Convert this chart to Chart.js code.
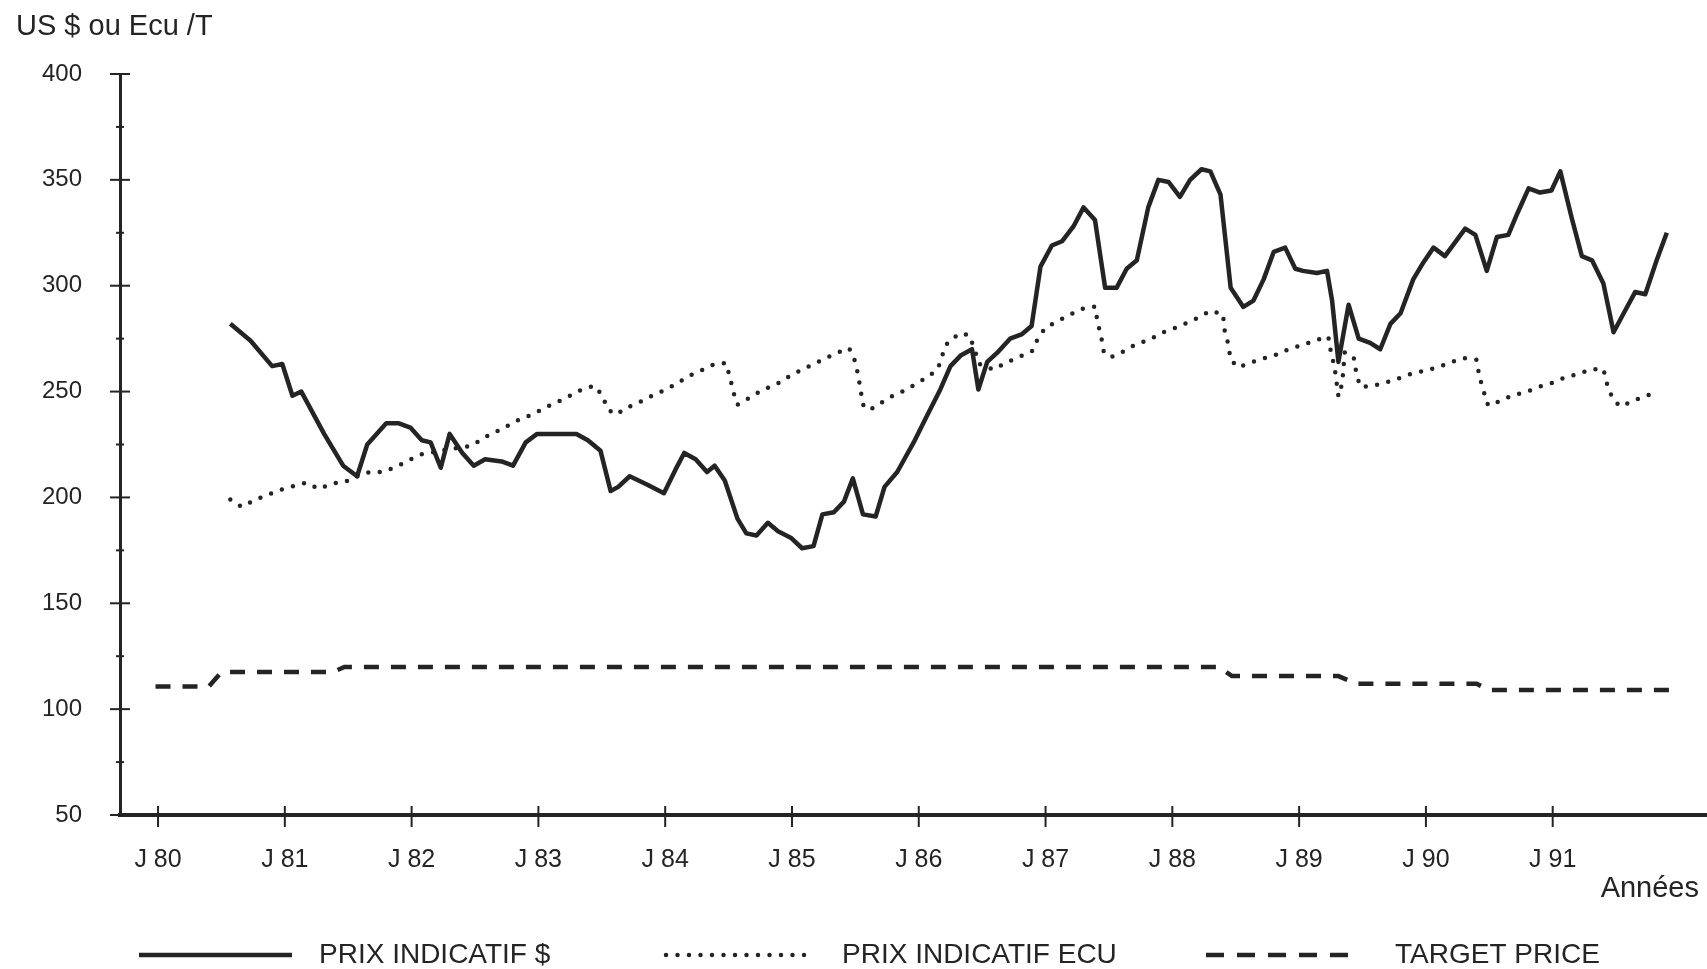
<!DOCTYPE html>
<html>
<head>
<meta charset="utf-8">
<title>Prix indicatif</title>
<script src="https://cdn.jsdelivr.net/npm/chart.js@4.4.1/dist/chart.umd.min.js"></script>
<style>
    html, body { margin: 0; padding: 0; background: #fff; }
    #wrap { width: 1707px; height: 969px; position: relative; }
</style>
</head>
<body>
<div id="wrap"><canvas id="chart"></canvas></div>
<script>
// Prix indicatif en dollars (US $ / T)
const usdYears = [
    1980.57, 1980.73, 1980.90, 1980.98, 1981.06, 1981.13, 1981.31, 1981.46, 1981.57, 1981.65,
    1981.80, 1981.90, 1981.99, 1982.08, 1982.15, 1982.23, 1982.30, 1982.40, 1982.49, 1982.58,
    1982.71, 1982.80, 1982.90, 1982.99, 1983.17, 1983.30, 1983.39, 1983.49, 1983.57, 1983.63,
    1983.72, 1983.86, 1983.99, 1984.08, 1984.15, 1984.24, 1984.33, 1984.39, 1984.47, 1984.57,
    1984.64, 1984.72, 1984.81, 1984.89, 1984.99, 1985.08, 1985.17, 1985.24, 1985.33, 1985.41,
    1985.48, 1985.56, 1985.66, 1985.73, 1985.83, 1985.96, 1986.06, 1986.17, 1986.25, 1986.33,
    1986.42, 1986.47, 1986.54, 1986.63, 1986.72, 1986.81, 1986.89, 1986.96, 1987.05, 1987.13,
    1987.22, 1987.30, 1987.39, 1987.47, 1987.56, 1987.64, 1987.72, 1987.81, 1987.89, 1987.97,
    1988.06, 1988.14, 1988.23, 1988.30, 1988.38, 1988.46, 1988.56, 1988.64, 1988.72, 1988.80,
    1988.89, 1988.97, 1989.03, 1989.14, 1989.22, 1989.26, 1989.31, 1989.39, 1989.47, 1989.56,
    1989.64, 1989.72, 1989.80, 1989.90, 1989.98, 1990.06, 1990.15, 1990.31, 1990.39, 1990.48,
    1990.56, 1990.65, 1990.72, 1990.81, 1990.90, 1990.99, 1991.06, 1991.15, 1991.23, 1991.31,
    1991.40, 1991.48, 1991.56, 1991.65, 1991.73, 1991.82, 1991.90
];
const usdPrice = [
    282, 274, 262, 263, 248, 250, 230, 215, 210, 225,
    235, 235, 233, 227, 226, 214, 230, 221, 215, 218,
    217, 215, 226, 230, 230, 230, 227, 222, 203, 205,
    210, 206, 202, 213, 221, 218, 212, 215, 208, 190,
    183, 182, 188, 184, 181, 176, 177, 192, 193, 198,
    209, 192, 191, 205, 212, 226, 238, 251, 262, 267,
    270, 251, 264, 269, 275, 277, 281, 309, 319, 321,
    328, 337, 331, 299, 299, 308, 312, 337, 350, 349,
    342, 350, 355, 354, 343, 299, 290, 293, 303, 316,
    318, 308, 307, 306, 307, 293, 264, 291, 275, 273,
    270, 282, 287, 303, 311, 318, 314, 327, 324, 307,
    323, 324, 334, 346, 344, 345, 354, 332, 314, 312,
    301, 278, 287, 297, 296, 312, 325
];

// Prix indicatif en ECU / T
const ecuYears = [
    1980.57, 1980.66, 1980.77, 1980.96, 1981.07, 1981.17, 1981.27, 1981.37, 1981.47, 1981.57,
    1981.67, 1981.77, 1981.88, 1981.98, 1982.07, 1982.27, 1982.48, 1982.57, 1982.65, 1982.75,
    1982.85, 1982.95, 1983.05, 1983.15, 1983.24, 1983.34, 1983.44, 1983.50, 1983.55, 1983.61,
    1983.71, 1983.80, 1983.90, 1983.99, 1984.09, 1984.19, 1984.28, 1984.38, 1984.48, 1984.51,
    1984.54, 1984.57, 1984.68, 1984.77, 1984.87, 1984.97, 1985.06, 1985.16, 1985.25, 1985.35,
    1985.45, 1985.49, 1985.52, 1985.54, 1985.56, 1985.61, 1985.70, 1985.80, 1985.89, 1985.98,
    1986.07, 1986.15, 1986.19, 1986.23, 1986.33, 1986.40, 1986.48, 1986.59, 1986.69, 1986.79,
    1986.90, 1986.94, 1987.00, 1987.10, 1987.20, 1987.30, 1987.39, 1987.41, 1987.44, 1987.46,
    1987.52, 1987.63, 1987.72, 1987.82, 1987.91, 1988.01, 1988.11, 1988.21, 1988.30, 1988.40,
    1988.41, 1988.44, 1988.46, 1988.52, 1988.61, 1988.73, 1988.82, 1988.92, 1989.03, 1989.14,
    1989.23, 1989.25, 1989.28, 1989.31, 1989.34, 1989.35, 1989.36, 1989.43, 1989.45, 1989.48,
    1989.56, 1989.67, 1989.78, 1989.88, 1989.98, 1990.09, 1990.20, 1990.30, 1990.40, 1990.42,
    1990.45, 1990.49, 1990.58, 1990.68, 1990.79, 1990.89, 1990.99, 1991.10, 1991.20, 1991.31,
    1991.40, 1991.43, 1991.47, 1991.53, 1991.63, 1991.73, 1991.83
];
const ecuPrice = [
    199, 195.5, 199, 203.5, 205.4, 207, 204, 206.6, 207.2, 210,
    212, 212, 214.5, 217.6, 220.3, 222.5, 224.5, 228.2, 230.5, 233.6,
    236.8, 239.1, 242.3, 245.1, 247.7, 250.9, 252.8, 248.5, 241.5, 239.1,
    242.7, 245.1, 248.2, 250.6, 253.7, 257.5, 259.8, 262.7, 263.5, 256.9,
    249.3, 243.8, 247.6, 250.9, 253.1, 256.9, 259.8, 262.7, 265.3, 268.2,
    270.5, 265.8, 258.4, 251.2, 243.8, 241.2, 244.6, 248.2, 250.6, 253.7,
    256.9, 260.6, 267.8, 273.6, 277.6, 276.5, 263, 260.3, 263.7, 266.3,
    269.4, 275.2, 280.2, 283.4, 286.5, 289.3, 290.1, 282.8, 275.5, 268.5,
    266.3, 269.4, 272.6, 274.4, 277.6, 279.8, 282.3, 285.1, 288.2, 286.5,
    279.5, 272.6, 265, 261.4, 263.5, 265.8, 267.4, 270.1, 272.1, 274.4,
    276, 268.9, 261.4, 247.7, 254, 261.4, 268.5, 266.3, 259.2, 252.4,
    252.4, 254, 256.1, 258.3, 259.8, 261.4, 263.9, 265.8, 265, 257.6,
    251.2, 243.5, 245.4, 248.1, 249.8, 252.2, 254, 256.7, 258.3, 260.6,
    260.6, 253.3, 247, 243, 245.4, 248.1, 249
];

// Target price
const targetYears = [1979.98, 1980.40, 1980.50, 1981.38, 1981.47, 1988.37, 1988.47, 1989.31, 1989.45, 1990.40, 1990.50, 1991.93];
const targetPrice = [110.7, 110.7, 117.5, 117.5, 119.9, 119.9, 115.6, 115.6, 112, 112, 109, 109];

// Axes
const yearTicks = [1980, 1981, 1982, 1983, 1984, 1985, 1986, 1987, 1988, 1989, 1990, 1991];
const yearLabels = ['J 80', 'J 81', 'J 82', 'J 83', 'J 84', 'J 85', 'J 86', 'J 87', 'J 88', 'J 89', 'J 90', 'J 91'];
const seriesNames = ['PRIX INDICATIF $', 'PRIX INDICATIF ECU', 'TARGET PRICE'];

const INK = '#242424';
const FONT = "'Liberation Sans', Arial, Helvetica, sans-serif";

function toPoints(xs, ys) {
    return xs.map((x, i) => ({ x: x, y: ys[i] }));
}

// textes libres, graduations croisees et legende du bas
const annotations = {
    id: 'annotations',
    afterDraw(chart) {
        const ctx = chart.ctx;
        const xs = chart.scales.x;
        const ys = chart.scales.y;
        const area = chart.chartArea;
        ctx.save();
        ctx.strokeStyle = INK;
        ctx.fillStyle = INK;
        ctx.lineWidth = 2;

        ys.ticks.forEach(t => {
            const py = ys.getPixelForValue(t.value);
            const len = t.value % 50 === 0 ? 10 : 4;
            ctx.beginPath();
            ctx.moveTo(area.left - len, py);
            ctx.lineTo(area.left + len, py);
            ctx.stroke();
        });
        xs.ticks.forEach(t => {
            const px = xs.getPixelForValue(t.value);
            ctx.beginPath();
            ctx.moveTo(px, area.bottom - 9);
            ctx.lineTo(px, area.bottom + 12);
            ctx.stroke();
        });

        ctx.font = '29px ' + FONT;
        ctx.textBaseline = 'middle';
        ctx.textAlign = 'left';
        ctx.fillText('US $ ou Ecu /T', 16, 27);
        ctx.textAlign = 'right';
        ctx.fillText('Années', 1699, 889);

        // legende
        const legY = 955;
        const lineStart = [139, 666, 1206];
        const lineEnd = [292, 811, 1350];
        const textStart = [319, 842, 1395];
        ctx.font = '28px ' + FONT;
        ctx.textAlign = 'left';
        chart.data.datasets.forEach((ds, i) => {
            ctx.save();
            ctx.lineWidth = ds.borderWidth;
            ctx.lineCap = ds.borderCapStyle || 'butt';
            ctx.setLineDash(i === 2 ? [18, 13] : (ds.borderDash || []));
            ctx.beginPath();
            ctx.moveTo(lineStart[i], legY);
            ctx.lineTo(lineEnd[i], legY);
            ctx.stroke();
            ctx.restore();
            ctx.fillText(ds.label, textStart[i], legY);
        });
        ctx.restore();
    }
};

const chart = new Chart(document.getElementById('chart'), {
    type: 'line',
    data: {
        datasets: [
            {
                label: seriesNames[0],
                data: toPoints(usdYears, usdPrice),
                borderColor: INK,
                borderWidth: 4.5,
                borderJoinStyle: 'round',
                pointRadius: 0
            },
            {
                label: seriesNames[1],
                data: toPoints(ecuYears, ecuPrice),
                borderColor: INK,
                borderWidth: 4.5,
                borderDash: [0, 11.5],
                borderCapStyle: 'round',
                pointRadius: 0
            },
            {
                label: seriesNames[2],
                data: toPoints(targetYears, targetPrice),
                borderColor: INK,
                borderWidth: 4.5,
                borderDash: [15, 12],
                pointRadius: 0
            }
        ]
    },
    options: {
        responsive: true,
        maintainAspectRatio: false,
        animation: false,
        layout: { padding: { top: 74, left: 0, right: 0, bottom: 0 } },
        plugins: {
            legend: { display: false },
            tooltip: { enabled: false }
        },
        scales: {
            x: {
                type: 'linear',
                min: 1979.7,
                max: 1992.217,
                grid: { display: false, drawTicks: false },
                border: { display: true, color: INK, width: 4 },
                afterBuildTicks: s => { s.ticks = yearTicks.map(v => ({ value: v })); },
                afterFit: s => { s.height = 154; s.paddingLeft = 0; s.paddingRight = 0; },
                ticks: {
                    color: INK,
                    padding: 30,
                    maxRotation: 0,
                    font: { family: FONT, size: 25 },
                    callback: v => yearLabels[yearTicks.indexOf(v)]
                }
            },
            y: {
                min: 50,
                max: 400,
                grid: { display: false, drawTicks: false },
                border: { display: true, color: INK, width: 3 },
                afterFit: s => { s.width = 120; s.paddingTop = 0; s.paddingBottom = 0; },
                ticks: {
                    stepSize: 25,
                    color: INK,
                    padding: 38,
                    font: { family: FONT, size: 24 },
                    callback: v => (v % 50 === 0 ? v : '')
                }
            }
        }
    },
    plugins: [annotations]
});
</script>
</body>
</html>
